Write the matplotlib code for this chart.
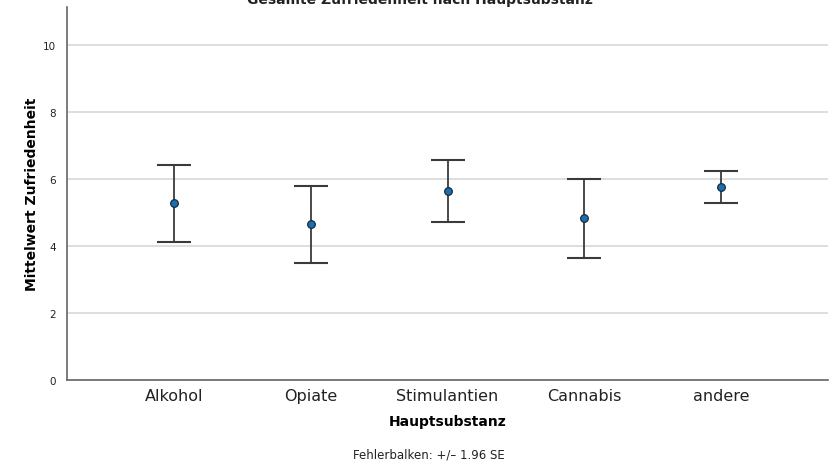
import matplotlib
matplotlib.use("Agg")
import matplotlib.pyplot as plt
import numpy as np

categories = ["Alkohol", "Opiate", "Stimulantien", "Cannabis", "andere"]
means = [5.27, 4.64, 5.63, 4.82, 5.77]
upper = [6.43, 5.80, 6.57, 6.01, 6.25]
lower = [4.11, 3.48, 4.72, 3.63, 5.27]
yticks = [0, 2, 4, 6, 8, 10]

fig = plt.figure(figsize=(8.32, 4.64), dpi=100)
ax = fig.add_axes([67/832, 1-381/464, (828-67)/832, (381-8)/464])

x = np.arange(len(categories))
m = np.array(means)
yerr = np.vstack([m - np.array(lower), np.array(upper) - m])

ax.yaxis.grid(True, color="#d4d4d4", linewidth=1.1)
ax.set_axisbelow(True)
ax.errorbar(x, m, yerr=yerr, fmt="none", ecolor="#3a3a3a", elinewidth=1.3,
            capsize=12, capthick=1.5, zorder=3)
ax.plot(x, m, "o", markersize=5.5, markerfacecolor="#1570b8",
        markeredgecolor="#1e2a36", markeredgewidth=0.9, zorder=4)

ax.set_xlim(-0.78, 4.78)
ax.set_ylim(0, 11.13)
ax.set_yticks(yticks)
ax.set_yticklabels([str(v) for v in yticks], fontsize=7.5)
ax.set_xticks(x)
ax.set_xticklabels(categories, fontsize=11.5)
ax.tick_params(axis="both", length=0, colors="#222222")
ax.tick_params(axis="y", pad=8)
ax.tick_params(axis="x", pad=6)

for s in ["top", "right"]:
    ax.spines[s].set_visible(False)
for s in ["left", "bottom"]:
    ax.spines[s].set_color("#666666")
    ax.spines[s].set_linewidth(1.2)

ax.set_ylabel("Mittelwert Zufriedenheit", fontsize=10, fontweight="bold", labelpad=3)
ax.set_xlabel("Hauptsubstanz", fontsize=10, fontweight="bold", labelpad=8)

fig.text(0.505, 1 - 4/464, "Gesamte Zufriedenheit nach Hauptsubstanz",
         ha="center", va="baseline", fontsize=10, fontweight="bold", color="#222222")
fig.text(0.515, 1 - 455/464, "Fehlerbalken: +/\u2013 1.96 SE", ha="center",
         va="center", fontsize=8.5, color="#222222")

fig.savefig("out.png", dpi=100)
